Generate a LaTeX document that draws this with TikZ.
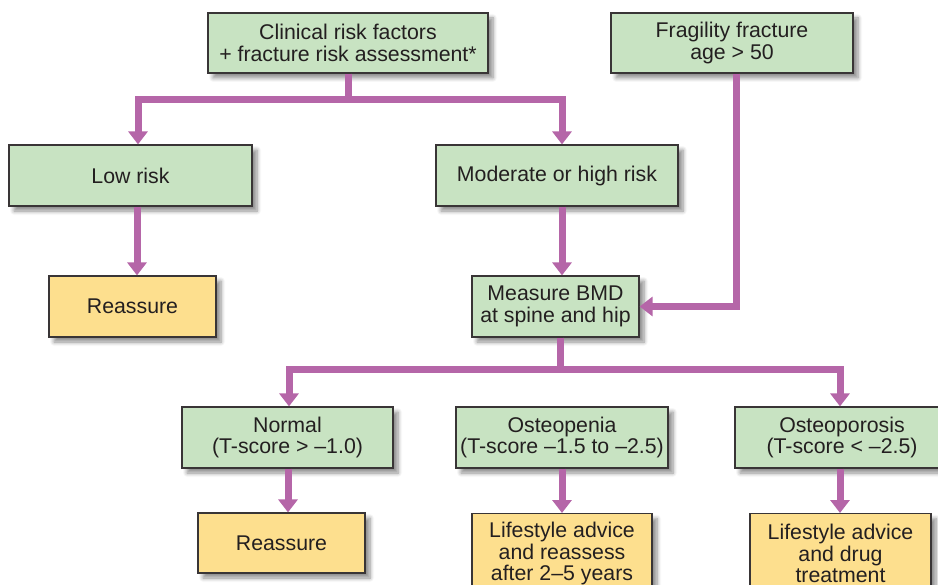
\documentclass[tikz,border=0pt]{standalone}
\usepackage{fontspec}
\setmainfont{Liberation Sans}
\usetikzlibrary{arrows.meta,shadows.blur,calc}
\definecolor{boxgreen}{HTML}{C8E3C2}
\definecolor{boxyellow}{HTML}{FDDF8E}
\definecolor{flowpurple}{HTML}{B566A8}
\definecolor{inkgray}{HTML}{231F20}
\begin{document}
\begin{tikzpicture}[x=1pt,y=-1pt,
  box/.style={draw=inkgray!90, line width=1.2pt, text=inkgray, align=center, inner sep=0pt,
    font=\fontsize{21.3}{21.7}\selectfont,
    blur shadow={shadow xshift=5pt, shadow yshift=-5pt, shadow blur steps=6, shadow blur radius=4pt, shadow opacity=45}},
  gbox/.style={box, fill=boxgreen},
  ybox/.style={box, fill=boxyellow},
  flowline/.style={draw=flowpurple, line width=7pt},
  flow/.style={flowline, -{Triangle[width=19pt,length=13pt]}}]
\useasboundingbox (0,0) rectangle (938,585);

% nodes
\node[gbox, minimum width=280pt, minimum height=60pt] (clin) at (348,43) {Clinical risk factors\\+ fracture risk assessment*};
\node[gbox, minimum width=242pt, minimum height=60pt] (frag) at (732,43) {Fragility fracture\\age > 50};
\node[gbox, minimum width=243pt, minimum height=61pt] (low) at (130.5,175.5) {Low risk};
\node[gbox, minimum width=242pt, minimum height=61pt] (mod) at (557,175.5) {Moderate or high risk};
\node[ybox, minimum width=167pt, minimum height=61pt] (re1) at (132.5,306.5) {Reassure};
\node[gbox, minimum width=167pt, minimum height=61pt] (bmd) at (555.5,306.5) {Measure BMD\\at spine and hip};
\node[gbox, minimum width=211pt, minimum height=61pt] (norm) at (287.5,437.5) {Normal\\(T-score > –1.0)};
\node[gbox, minimum width=212pt, minimum height=61pt] (openia) at (562,437.5) {Osteopenia\\(T-score –1.5 to –2.5)};
\node[gbox, minimum width=214pt, minimum height=61pt] (oporo) at (842,437.5) {Osteoporosis\\(T-score < –2.5)};
\node[ybox, minimum width=167pt, minimum height=60pt] (re2) at (281.5,543) {Reassure};
\node[ybox, minimum width=180pt, minimum height=80pt, anchor=north] (ls1) at (562,513) {Lifestyle advice\\and reassess\\after 2–5 years};
\node[ybox, minimum width=181pt, minimum height=80pt, anchor=north] (ls2) at (840.5,513) {Lifestyle advice\\and drug\\treatment};

% junction coordinates
\coordinate (jl) at (138,100);
\coordinate (jr) at (562,100);
\coordinate (xa) at (137,0);
\coordinate (fx) at (736,0);
\coordinate (jb) at (560,369.5);
\coordinate (jn) at (289,369.5);
\coordinate (jo) at (840,369.5);
\coordinate (xn) at (288,0);

% connectors
\draw[flow] (clin.south) |- (jl) -- (jl |- low.north);
\draw[flow] (clin.south) |- (jr) -- (jr |- mod.north);
\draw[flow] (low.south -| xa) -- (re1.north -| xa);
\draw[flow] (mod.south -| jr) -- (bmd.north -| jr);
\draw[flow] (frag.south -| fx) |- (bmd.east);
\draw[flow] (bmd.south -| jb) |- (jn) -- (jn |- norm.north);
\draw[flow] (bmd.south -| jb) |- (jo) -- (jo |- oporo.north);
\draw[flow] (norm.south -| xn) -- (re2.north -| xn);
\draw[flow] (openia.south) -- (ls1.north);
\draw[flow] (oporo.south -| jo) -- (ls2.north -| jo);
\end{tikzpicture}
\end{document}
